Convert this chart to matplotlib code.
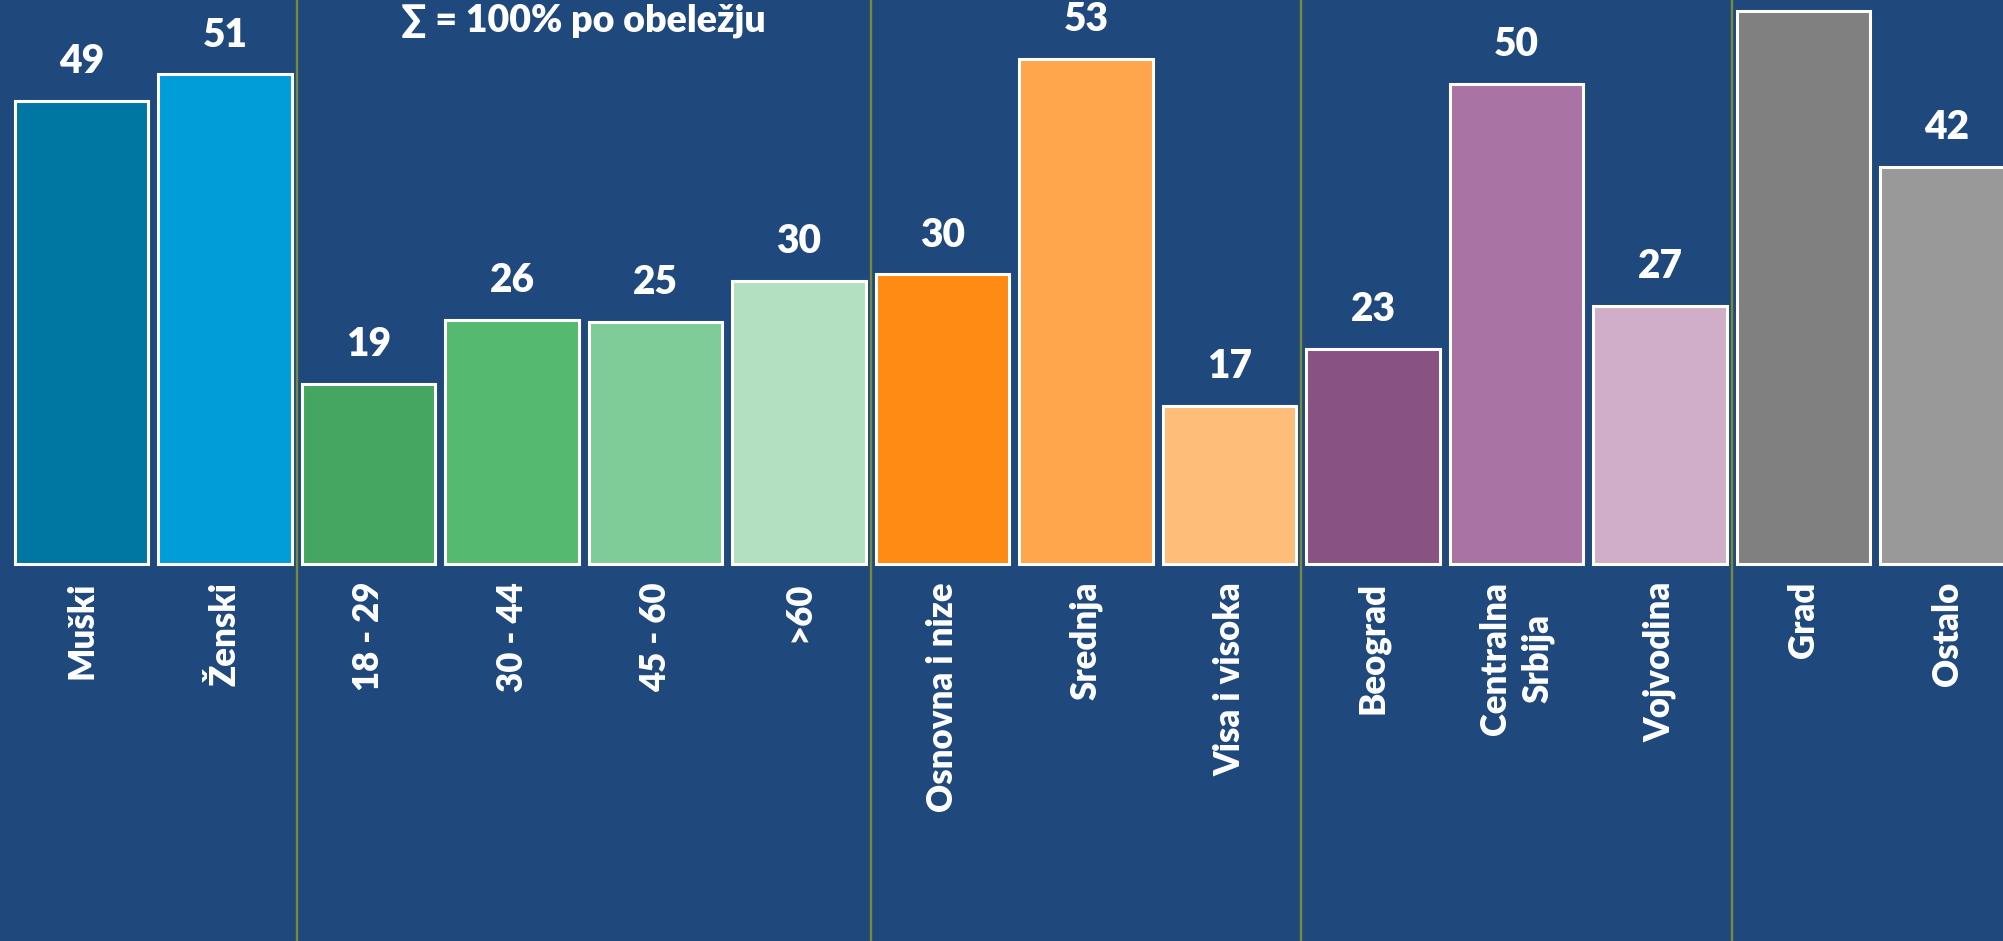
import matplotlib
matplotlib.use('Agg')
import matplotlib.pyplot as plt

categories = ['Muški', 'Ženski', '18 - 29', '30 - 44', '45 - 60', '>60',
              'Osnovna i nize', 'Srednja', 'Visa i visoka',
              'Beograd', 'Centralna\nSrbija', 'Vojvodina', 'Grad', 'Ostalo']
values = [48.6, 51.4, 18.9, 25.6, 25.4, 29.7, 30.4, 53.0, 16.6,
          22.6, 50.4, 27.1, 58.0, 41.7]
colors = ['#0077A3', '#009DD9',
          '#44A660', '#55BA70', '#80CC98', '#B3E0C1',
          '#FF8A14', '#FFA64C', '#FFBD7A',
          '#885282', '#A974A3', '#D0AEC9',
          '#808080', '#999999']
group_breaks = [1.5, 5.5, 8.5, 11.5]
title = '∑ = 100% po obeležju'

bg = '#1F497D'
font = ['Lato', 'DejaVu Sans']

fig = plt.figure(figsize=(20.03, 9.41), dpi=100)
fig.patch.set_facecolor(bg)
ax = fig.add_axes([0, 0, 1, 1])
ax.set_facecolor(bg)

x = list(range(len(values)))
ax.bar(x, values, width=0.93, color=colors, edgecolor='white', linewidth=2.2, zorder=3)

for xi, v in zip(x, values):
    ax.annotate('%d' % round(v), (xi, v), xytext=(0, 20), textcoords='offset points',
                ha='center', va='baseline', color='white', fontsize=28,
                fontweight='heavy', family=font)

for xi, lab in zip(x, categories):
    ax.annotate(lab, (xi, 0), xytext=(0, -13), textcoords='offset points',
                ha='center', va='top', rotation=90, multialignment='center',
                color='white', fontsize=25, fontweight='heavy', family=font,
                linespacing=1.35)

for b in group_breaks:
    ax.axvline(b, color='#77893A', linewidth=1.7, zorder=2)

ax.text(3.5, 58.8, title, ha='center', va='top', color='white', fontsize=27,
        fontweight='heavy', family=font)

ax.set_xlim(-0.568, 13.39)
ax.set_ylim(-39.6, 59.2)
ax.axis('off')

fig.savefig('out.png', dpi=100, facecolor=bg)
